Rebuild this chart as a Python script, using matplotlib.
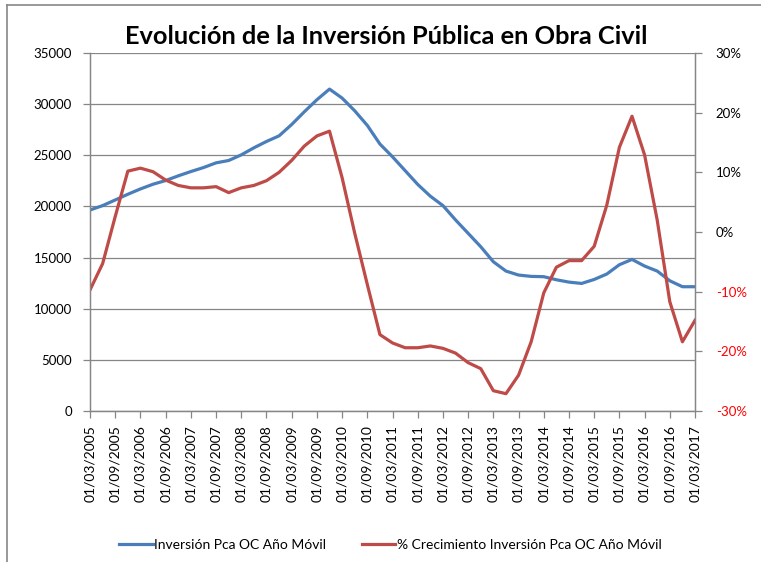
import matplotlib
matplotlib.use("Agg")
import matplotlib.pyplot as plt
from matplotlib.lines import Line2D
import numpy as np

plt.rcParams['font.family'] = ['Lato', 'DejaVu Sans']

# Quarterly data, 03/2005 .. 03/2017
fechas = ['01/%02d/%d' % (m, y) for y in range(2005, 2018) for m in (3, 6, 9, 12)][:49]

inversion = [19650, 20080, 20630, 21190, 21710, 22170, 22530, 22990, 23410, 23800,
             24260, 24490, 25040, 25730, 26350, 26900, 28010, 29250, 30430, 31470,
             30590, 29350, 27920, 26100, 24850, 23500, 22150, 21000, 20080, 18680,
             17370, 16060, 14590, 13680, 13290, 13160, 13130, 12830, 12600, 12470,
             12860, 13390, 14300, 14820, 14170, 13680, 12730, 12150, 12150]

crecimiento = [-9.7, -5.3, 2.6, 10.2, 10.7, 10.1, 8.7, 7.8, 7.4, 7.4,
               7.6, 6.6, 7.4, 7.8, 8.6, 10.0, 12.0, 14.4, 16.1, 16.9,
               9.1, -0.2, -8.8, -17.2, -18.6, -19.4, -19.4, -19.1, -19.5, -20.3,
               -21.9, -22.9, -26.6, -27.1, -24.0, -18.4, -10.2, -5.9, -4.8, -4.8,
               -2.4, 4.5, 14.2, 19.4, 12.9, 2.0, -11.7, -18.4, -14.8]

azul = '#4A7EBB'
rojo = '#BE4B48'
gris = '#868686'

fig = plt.figure(figsize=(7.61, 5.62), dpi=100)
ax = fig.add_axes([0.1183, 0.2687, 0.795, 0.637])
ax2 = ax.twinx()

x = np.arange(len(inversion))
ax.plot(x, inversion, color=azul, lw=2.3, solid_joinstyle='round')
ax2.plot(x, crecimiento, color=rojo, lw=2.3, solid_joinstyle='round')

# left axis
ax.set_ylim(0, 35000)
ax.set_yticks(range(0, 35001, 5000))
ax.grid(axis='y', color=gris, lw=0.9)
ax.set_axisbelow(True)
ax.set_xlim(0, 48)
ax.set_xticks(x[::2])
ax.set_xticklabels(fechas[::2], rotation=90)

# right axis
ax2.set_ylim(-30, 30)
pct = list(range(-30, 31, 10))
ax2.set_yticks(pct)
ax2.set_yticklabels(['%d%%' % p for p in pct])

for a in (ax, ax2):
    a.spines['top'].set_visible(False)
    for s in ('left', 'right', 'bottom'):
        a.spines[s].set_color(gris)
        a.spines[s].set_linewidth(0.9)
    a.tick_params(axis='both', colors=gris, labelcolor='black', labelsize=9.5,
                  length=5, width=0.9)
ax.tick_params(axis='x', labelsize=10, pad=5)
ax.tick_params(axis='y', pad=8)
ax2.tick_params(axis='y', pad=10)
for lab, p in zip(ax2.get_yticklabels(), pct):
    lab.set_color('#FF0000' if p < 0 else 'black')

fig.suptitle('Evolución de la Inversión Pública en Obra Civil', x=0.508, y=0.956,
             fontsize=18.3, fontweight='bold')

handles = [Line2D([], [], color=azul, lw=2.3), Line2D([], [], color=rojo, lw=2.3)]
fig.legend(handles, ['Inversión Pca OC Año Móvil', '% Crecimiento Inversión Pca OC Año Móvil'],
           loc='center', bbox_to_anchor=(0.513, 0.03), ncol=2, frameon=False,
           fontsize=10, handlelength=2.4, handletextpad=0.1, columnspacing=2.6)

# chart border
fig.add_artist(Line2D([0.009, 1.0], [0.991, 0.991], color=gris, lw=1.2))
fig.add_artist(Line2D([0.009, 0.009], [0.0, 0.991], color=gris, lw=1.2))

fig.savefig('out.png', dpi=100)
